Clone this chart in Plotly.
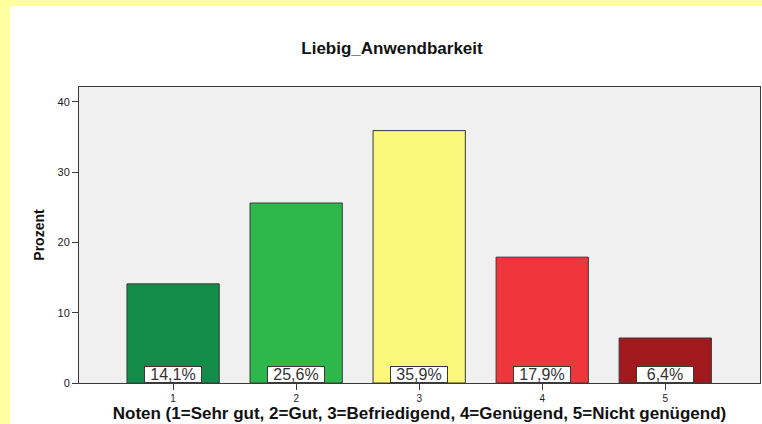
import plotly.graph_objects as go

categories = [1, 2, 3, 4, 5]
percent = [14.1, 25.6, 35.9, 17.9, 6.4]
bar_labels = ["14,1%", "25,6%", "35,9%", "17,9%", "6,4%"]
bar_colors = ["#128C48", "#2EB84C", "#FAF77A", "#F0363D", "#A1181D"]
y_ticks = [0, 10, 20, 30, 40]

FONT = "Liberation Sans, Arial, sans-serif"

fig = go.Figure()
fig.add_trace(go.Bar(
    x=categories, y=percent, width=0.75,
    marker=dict(color=bar_colors, line=dict(color="#3a3a3a", width=1)),
    hoverinfo="skip", showlegend=False,
))

for c, lab in zip(categories, bar_labels):
    fig.add_annotation(
        x=c, y=0, xref="x", yref="y", text=lab, showarrow=False,
        yanchor="bottom", xanchor="center",
        font=dict(family=FONT, size=16, color="#333333"),
        bgcolor="white", bordercolor="#3a3a3a", borderwidth=1, borderpad=0,
        width=56, height=15,
    )

L, R, T, B = 79, 2, 87, 41
W, H = 762, 424
pw, ph = W - L - R, H - T - B
# yellow frame strips (left and top) in paper coordinates
fig.add_shape(type="rect", xref="paper", yref="paper", layer="below",
              x0=-L / pw, x1=(10 - L) / pw, y0=-B / ph, y1=(H - B) / ph,
              fillcolor="#FFFFA0", line=dict(width=0))
fig.add_shape(type="rect", xref="paper", yref="paper", layer="below",
              x0=-L / pw, x1=(W - L) / pw, y0=(H - B - 6) / ph, y1=(H - B) / ph,
              fillcolor="#FFFFA0", line=dict(width=0))

fig.update_layout(
    width=W, height=H,
    margin=dict(l=L, r=R, t=T, b=B, pad=0),
    paper_bgcolor="white", plot_bgcolor="#F0F0F0",
    font=dict(family=FONT, color="#222222"),
    title=dict(text="<b>Liebig_Anwendbarkeit</b>", x=392 / W, xanchor="center",
               y=1 - 48 / H, yanchor="middle",
               font=dict(family=FONT, size=17, color="#111111")),
    bargap=0.25,
)
fig.update_xaxes(
    range=[0.235, 5.77], tickvals=categories, ticktext=[str(c) for c in categories],
    showline=True, linecolor="#3a3a3a", linewidth=1, mirror=True,
    ticks="outside", ticklen=6, tickcolor="#3a3a3a",
    tickfont=dict(size=10, color="#222222"), showgrid=False, zeroline=False,
    title=dict(text="<b>Noten (1=Sehr gut, 2=Gut, 3=Befriedigend, 4=Genügend, 5=Nicht genügend)</b>",
               font=dict(family=FONT, size=17, color="#111111"), standoff=1),
)
fig.update_yaxes(
    range=[0, 42.1], tickvals=y_ticks,
    showline=True, linecolor="#3a3a3a", linewidth=1, mirror=True,
    ticks="outside", ticklen=6, tickcolor="#3a3a3a",
    tickfont=dict(size=11, color="#222222"), showgrid=False, zeroline=False,
    title=dict(text="<b>Prozent</b>", font=dict(family=FONT, size=14, color="#111111"), standoff=9),
)

fig.write_html("out.html", config={"displayModeBar": False},
               post_script="document.body.style.margin='0';document.body.style.overflow='hidden';")
